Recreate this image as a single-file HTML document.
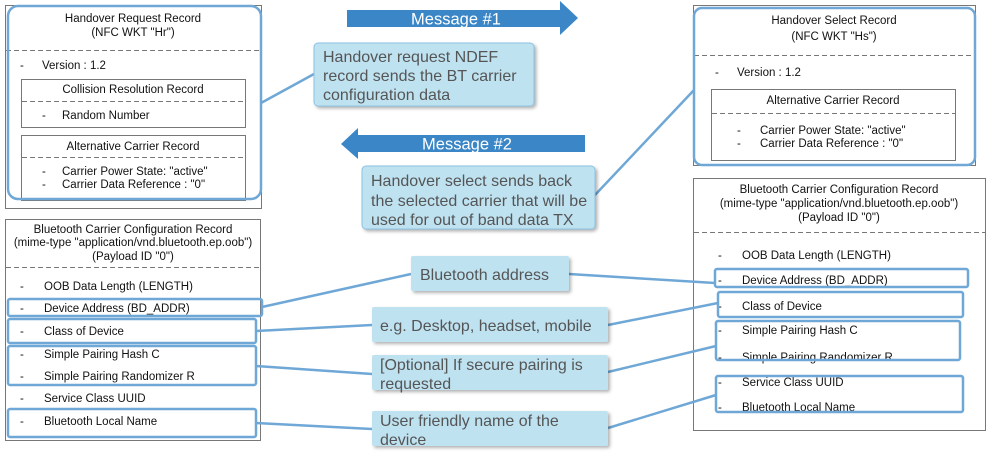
<!DOCTYPE html>
<html><head><meta charset="utf-8"><style>
html,body{margin:0;padding:0;background:#fff;}
svg{display:block;font-family:"Liberation Sans",Arial,sans-serif;}
.r{font-size:11.5px;fill:#111;}
.c{font-size:16px;fill:#555;}
</style></head><body>
<svg width="999" height="465" viewBox="0 0 999 465" xmlns="http://www.w3.org/2000/svg">
<defs><filter id="sh" x="-5%" y="-5%" width="115%" height="125%"><feDropShadow dx="2" dy="2" stdDeviation="1.5" flood-color="#000" flood-opacity="0.3"/></filter></defs>
<g fill="none" stroke="#777" stroke-width="1">
<rect x="5.5" y="5.5" width="256" height="203"/>
<line x1="6" y1="50.5" x2="261" y2="50.5" stroke-dasharray="5,3"/>
<rect x="21.5" y="79.5" width="224" height="48"/>
<line x1="22" y1="101.5" x2="245" y2="101.5" stroke-dasharray="5,3"/>
<rect x="21.5" y="135.5" width="224" height="65"/>
<line x1="22" y1="157.5" x2="245" y2="157.5" stroke-dasharray="5,3"/>
<rect x="5.5" y="219.5" width="255" height="221"/>
<line x1="6" y1="267.5" x2="260" y2="267.5" stroke-dasharray="5,3"/>
<rect x="693.5" y="5.5" width="282" height="160"/>
<line x1="694" y1="55.5" x2="975" y2="55.5" stroke-dasharray="5,3"/>
<rect x="711.5" y="89.5" width="244" height="71"/>
<line x1="712" y1="113.5" x2="955" y2="113.5" stroke-dasharray="5,3"/>
<rect x="693.5" y="178.5" width="292" height="252"/>
<line x1="694" y1="232.5" x2="985" y2="232.5" stroke-dasharray="5,3"/>
</g>
<g class="r">
<text x="133" y="22" text-anchor="middle">Handover Request Record</text>
<text x="133" y="36" text-anchor="middle">(NFC WKT "Hr")</text>
<text x="20" y="69">-</text><text x="42" y="69">Version : 1.2</text>
<text x="133" y="93" text-anchor="middle">Collision Resolution Record</text>
<text x="42" y="119">-</text><text x="62" y="119">Random Number</text>
<text x="133" y="150" text-anchor="middle">Alternative Carrier Record</text>
<text x="42" y="175">-</text><text x="62" y="175">Carrier Power State: "active"</text>
<text x="42" y="188">-</text><text x="62" y="188">Carrier Data Reference : "0"</text>

<text x="133" y="233" text-anchor="middle">Bluetooth Carrier Configuration Record</text>
<text x="133" y="246" text-anchor="middle">(mime-type "application/vnd.bluetooth.ep.oob")</text>
<text x="133" y="260" text-anchor="middle">(Payload ID "0")</text>
<text x="20" y="290">-</text><text x="44" y="290">OOB Data Length (LENGTH)</text>
<text x="20" y="312">-</text><text x="44" y="312">Device Address (BD_ADDR)</text>
<text x="20" y="335">-</text><text x="44" y="335">Class of Device</text>
<text x="20" y="358">-</text><text x="44" y="358">Simple Pairing Hash C</text>
<text x="20" y="380">-</text><text x="44" y="380">Simple Pairing Randomizer R</text>
<text x="20" y="402">-</text><text x="44" y="402">Service Class UUID</text>
<text x="20" y="425">-</text><text x="44" y="425">Bluetooth Local Name</text>

<text x="834" y="24" text-anchor="middle">Handover Select Record</text>
<text x="834" y="40" text-anchor="middle">(NFC WKT "Hs")</text>
<text x="715" y="76">-</text><text x="737" y="76">Version : 1.2</text>
<text x="833" y="104" text-anchor="middle">Alternative Carrier Record</text>
<text x="737" y="134">-</text><text x="760" y="134">Carrier Power State: "active"</text>
<text x="737" y="147">-</text><text x="760" y="147">Carrier Data Reference : "0"</text>

<text x="839" y="193" text-anchor="middle">Bluetooth Carrier Configuration Record</text>
<text x="839" y="207" text-anchor="middle">(mime-type "application/vnd.bluetooth.ep.oob")</text>
<text x="839" y="221" text-anchor="middle">(Payload ID "0")</text>
<text x="718" y="259">-</text><text x="742" y="259">OOB Data Length (LENGTH)</text>
<text x="718" y="284">-</text><text x="742" y="284">Device Address (BD_ADDR)</text>
<text x="718" y="310">-</text><text x="742" y="310">Class of Device</text>
<text x="718" y="334">-</text><text x="742" y="334">Simple Pairing Hash C</text>
<text x="718" y="361">-</text><text x="742" y="361">Simple Pairing Randomizer R</text>
<text x="718" y="386">-</text><text x="742" y="386">Service Class UUID</text>
<text x="718" y="411">-</text><text x="742" y="411">Bluetooth Local Name</text>
</g>
<g fill="none" stroke="#6fa8d6" stroke-width="2.5">
<rect x="8" y="6" width="253" height="193" rx="10"/>
<rect x="8" y="299" width="254" height="17" rx="2"/>
<rect x="8" y="319" width="248" height="24" rx="2"/>
<rect x="8" y="346" width="248" height="39" rx="2"/>
<rect x="8" y="409" width="248" height="28" rx="2"/>
<rect x="694" y="8" width="281" height="157" rx="8"/>
<rect x="715" y="269" width="253" height="18" rx="2"/>
<rect x="718" y="292" width="245" height="25" rx="2"/>
<rect x="716" y="321" width="244" height="39" rx="2"/>
<rect x="716" y="376" width="247" height="36" rx="2"/>
<line x1="261" y1="103" x2="314" y2="74"/>
<line x1="595" y1="195" x2="694" y2="90"/>
<line x1="262" y1="307" x2="411" y2="274"/>
<line x1="569" y1="274" x2="715" y2="283"/>
<line x1="256" y1="331" x2="372" y2="325"/>
<line x1="608" y1="325" x2="718" y2="303"/>
<line x1="256" y1="366" x2="372" y2="374"/>
<line x1="608" y1="372" x2="716" y2="346"/>
<line x1="256" y1="423" x2="372" y2="429"/>
<line x1="608" y1="428" x2="716" y2="395"/>
</g>
<polygon points="347,10 560,10 560,1 578,18 560,35 560,27 347,27" fill="#3a86c6"/>
<text x="456" y="24.5" text-anchor="middle" font-size="16.5" fill="#fff">Message #1</text>
<polygon points="341,144 358,128 358,135 585,135 585,152 358,152 358,159" fill="#3a86c6"/>
<text x="467" y="149.5" text-anchor="middle" font-size="16.5" fill="#fff">Message #2</text>
<g fill="#bfe2f1" filter="url(#sh)">
<rect x="314" y="43" width="220" height="63" rx="4" stroke="#8cc3e2" stroke-width="1"/>
<rect x="362" y="166" width="233" height="63" rx="4" stroke="#8cc3e2" stroke-width="1"/>
<rect x="411" y="256" width="158" height="35" rx="2"/>
<rect x="372" y="307" width="236" height="35" rx="2"/>
<rect x="372" y="355" width="236" height="35" rx="2"/>
<rect x="372" y="411" width="236" height="35" rx="2"/>
</g>
<g class="c">
<text x="323" y="62">Handover request NDEF</text>
<text x="323" y="81">record sends the  BT carrier</text>
<text x="323" y="100">configuration data</text>
<text x="371" y="186">Handover select sends back</text>
<text x="371" y="206">the selected carrier that will be</text>
<text x="371" y="225">used for out of band data TX</text>
<text x="420" y="280">Bluetooth address</text>
<text x="380" y="331">e.g. Desktop, headset, mobile</text>
<text x="380" y="370">[Optional] If secure pairing is</text>
<text x="380" y="389">requested</text>
<text x="380" y="426">User friendly name of the</text>
<text x="380" y="445">device</text>
</g>
</svg>
</body></html>
